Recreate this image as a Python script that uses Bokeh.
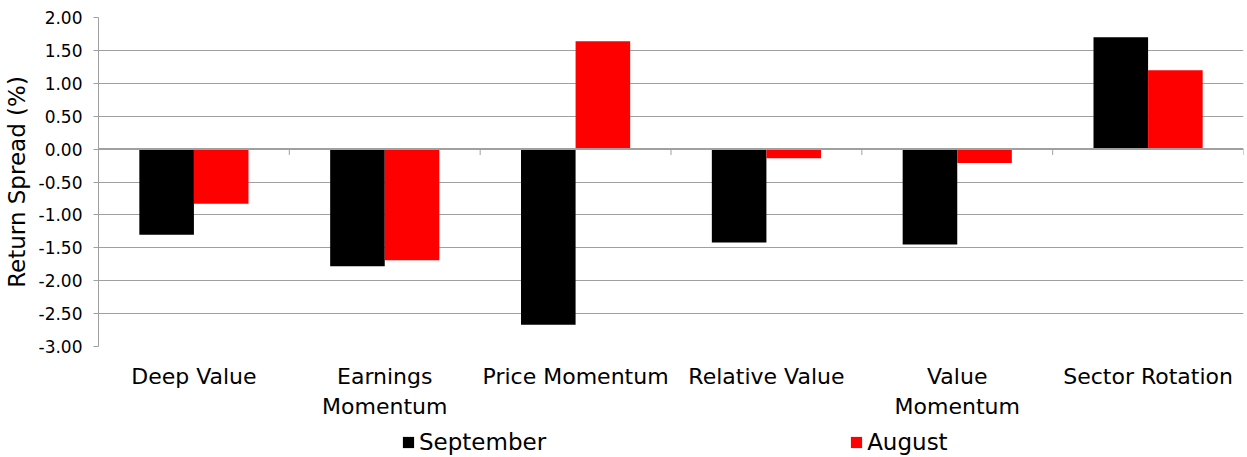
from bokeh.plotting import figure
from bokeh.layouts import column
from bokeh.models import (Range1d, LinearAxis, FixedTicker, NumeralTickFormatter, Legend,
                          LegendItem, ColumnDataSource, Grid, Span)
from bokeh.embed import file_html
from bokeh.resources import INLINE
import numpy as np

categories = ["Deep Value", "Earnings\nMomentum", "Price Momentum", "Relative Value",
              "Value\nMomentum", "Sector Rotation"]
september = [-1.30, -1.78, -2.67, -1.42, -1.45, 1.70]
august = [-0.83, -1.69, 1.64, -0.14, -0.21, 1.20]
series_names = ["September", "August"]
y_ticks = [-3.0, -2.5, -2.0, -1.5, -1.0, -0.5, 0.0, 0.5, 1.0, 1.5, 2.0]
grid_ticks = [-2.5, -2.0, -1.5, -1.0, -0.5, 0.5, 1.0, 1.5]

FONT = "DejaVu Sans"
GRAY = "#a0a0a0"
SEP_COLOR = "#000000"
AUG_COLOR = "#ff0000"

n = len(categories)
centers = np.arange(n) + 0.5
boundaries = np.arange(n + 1)
bw = 0.286

p = figure(width=1247, height=421, x_range=Range1d(0, n), y_range=Range1d(-3, 2),
           output_backend="svg", toolbar_location=None, x_axis_type=None, y_axis_type=None,
           min_border_left=98, min_border_right=4, min_border_top=17, min_border_bottom=73)
p.outline_line_color = None

src = ColumnDataSource(dict(x_sep=centers - bw / 2, x_aug=centers + bw / 2,
                            sep=september, aug=august))

p.add_layout(Grid(dimension=1, ticker=FixedTicker(ticks=grid_ticks),
                  grid_line_color=GRAY, grid_line_width=1))

p.vbar(x="x_sep", top="sep", bottom=0, width=bw, source=src,
       fill_color=SEP_COLOR, line_color=None)
p.vbar(x="x_aug", top="aug", bottom=0, width=bw, source=src,
       fill_color=AUG_COLOR, line_color=None)

# zero line and category boundary tick marks
p.add_layout(Span(location=0, dimension="width", line_color=GRAY, line_width=2))
p.segment(x0=boundaries, x1=boundaries, y0=0, y1=-0.09, line_color=GRAY, line_width=1)

# y axis
yaxis = LinearAxis(ticker=FixedTicker(ticks=y_ticks), formatter=NumeralTickFormatter(format="0.00"),
                   axis_label="Return Spread (%)")
yaxis.axis_line_color = GRAY
yaxis.major_tick_line_color = GRAY
yaxis.major_tick_in = 0
yaxis.major_tick_out = 5
yaxis.minor_tick_line_color = None
yaxis.major_label_text_font = FONT
yaxis.major_label_text_font_size = "17px"
yaxis.major_label_text_color = "#000000"
yaxis.major_label_standoff = 11
yaxis.axis_label_text_font = FONT
yaxis.axis_label_text_font_size = "23px"
yaxis.axis_label_text_font_style = "normal"
yaxis.axis_label_text_color = "#000000"
yaxis.axis_label_standoff = 6
p.add_layout(yaxis, "left")

# category label axis
xaxis = LinearAxis(ticker=FixedTicker(ticks=list(centers)),
                   major_label_overrides={float(c): lab for c, lab in zip(centers, categories)})
xaxis.axis_line_color = None
xaxis.major_tick_line_color = None
xaxis.minor_tick_line_color = None
xaxis.major_label_text_font = FONT
xaxis.major_label_text_font_size = "22px"
xaxis.major_label_text_color = "#000000"
xaxis.major_label_standoff = 11
p.add_layout(xaxis, "below")

# legend strip (swatch renderers are zero-size helpers, only used for the legend glyphs)
p2 = figure(width=1247, height=36, x_range=Range1d(0, 1), y_range=Range1d(0, 1),
            output_backend="svg", toolbar_location=None, x_axis_type=None, y_axis_type=None,
            min_border_left=0, min_border_right=0, min_border_top=0, min_border_bottom=0)
p2.outline_line_color = None
p2.xgrid.visible = False
p2.ygrid.visible = False
lr1 = p2.vbar(x=[0], top=[0], bottom=[0], width=0, fill_color=SEP_COLOR, line_color=None)
lr2 = p2.vbar(x=[0], top=[0], bottom=[0], width=0, fill_color=AUG_COLOR, line_color=None)
legend = Legend(items=[LegendItem(label=series_names[0], renderers=[lr1]),
                       LegendItem(label=series_names[1], renderers=[lr2])],
                orientation="horizontal", location=(303, 2), spacing=303,
                glyph_width=14, glyph_height=14, label_standoff=4,
                label_text_font=FONT, label_text_font_size="23px",
                label_text_color="#000000",
                border_line_color=None, background_fill_alpha=0,
                padding=0, margin=0)
p2.add_layout(legend, "center")

open("out.html", "w").write(file_html(column(p, p2), INLINE))
